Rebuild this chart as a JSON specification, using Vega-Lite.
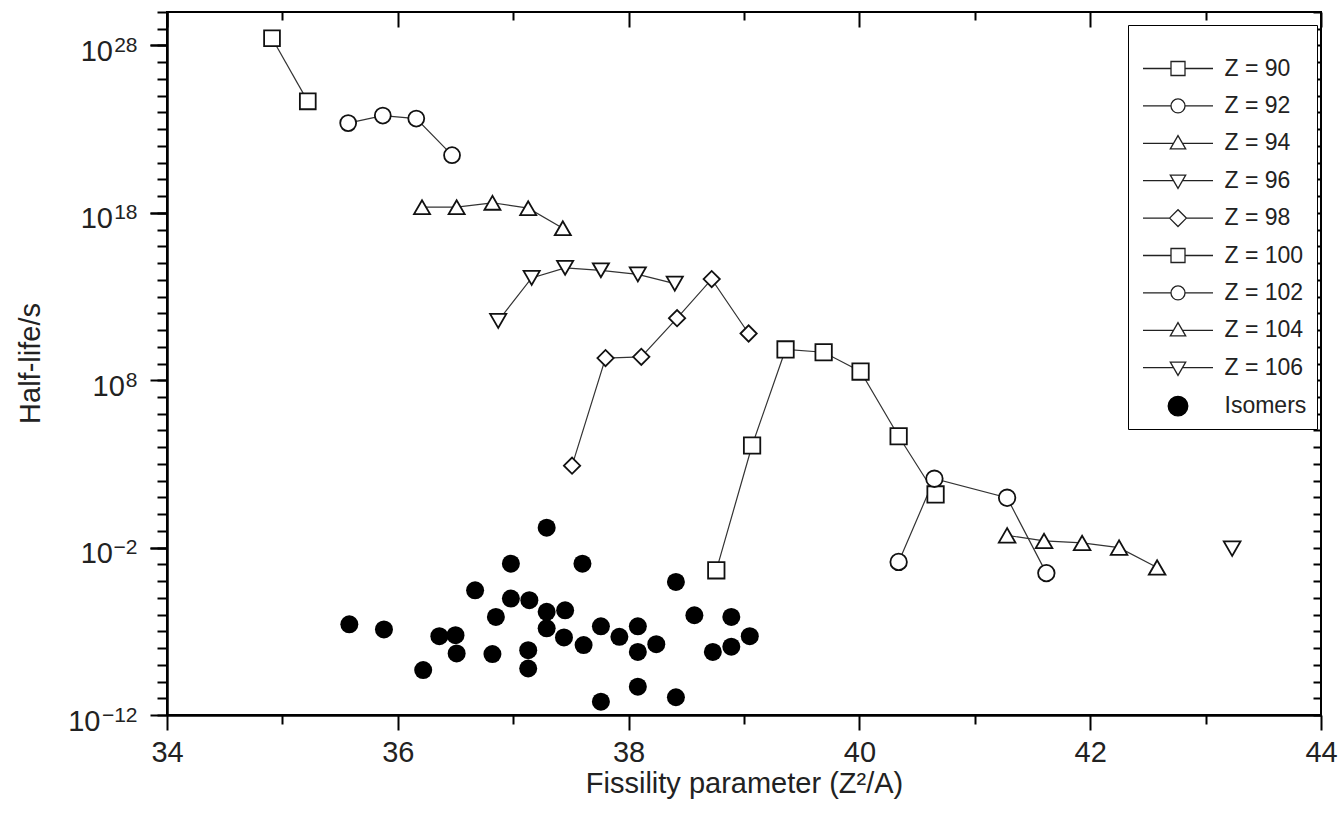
{
  "$schema": "https://vega.github.io/schema/vega-lite/v6.json",
  "width": 1154,
  "height": 703,
  "autosize": {"type": "none"},
  "padding": {"left": 167, "top": 12, "right": 23, "bottom": 100},
  "background": "white",
  "config": {
    "view": {"stroke": "#000", "strokeWidth": 2},
    "font": "Liberation Sans",
    "axis": {
      "grid": false,
      "tickColor": "#000",
      "domainColor": "#000",
      "labelColor": "#222",
      "titleColor": "#222",
      "labelFont": "Liberation Sans",
      "titleFont": "Liberation Sans",
      "labelFontSize": 29,
      "titleFontSize": 29,
      "titleFontWeight": "normal",
      "tickWidth": 2,
      "domainWidth": 2.5,
      "labelFlush": false,
      "labelOverlap": false
    }
  },
  "datasets": {
    "hl": [
      {"series": "Z = 90", "fissility": 34.91, "halflife": 2.7e28},
      {"series": "Z = 90", "fissility": 35.22, "halflife": 4.6e24},
      {"series": "Z = 92", "fissility": 35.57, "halflife": 2.3e23},
      {"series": "Z = 92", "fissility": 35.87, "halflife": 6.5e23},
      {"series": "Z = 92", "fissility": 36.16, "halflife": 4.3e23},
      {"series": "Z = 92", "fissility": 36.47, "halflife": 2.8e21},
      {"series": "Z = 94", "fissility": 36.21, "halflife": 2.2e18},
      {"series": "Z = 94", "fissility": 36.51, "halflife": 2.2e18},
      {"series": "Z = 94", "fissility": 36.82, "halflife": 4.0e18},
      {"series": "Z = 94", "fissility": 37.13, "halflife": 1.9e18},
      {"series": "Z = 94", "fissility": 37.43, "halflife": 1.2e17},
      {"series": "Z = 96", "fissility": 36.87, "halflife": 3.5e11},
      {"series": "Z = 96", "fissility": 37.16, "halflife": 1.3e14},
      {"series": "Z = 96", "fissility": 37.45, "halflife": 5.2e14},
      {"series": "Z = 96", "fissility": 37.76, "halflife": 3.7e14},
      {"series": "Z = 96", "fissility": 38.08, "halflife": 2.1e14},
      {"series": "Z = 96", "fissility": 38.40, "halflife": 5.9e13},
      {"series": "Z = 98", "fissility": 37.51, "halflife": 790},
      {"series": "Z = 98", "fissility": 37.80, "halflife": 2.1e9},
      {"series": "Z = 98", "fissility": 38.11, "halflife": 2.5e9},
      {"series": "Z = 98", "fissility": 38.42, "halflife": 5.1e11},
      {"series": "Z = 98", "fissility": 38.72, "halflife": 1.1e14},
      {"series": "Z = 98", "fissility": 39.04, "halflife": 6.2e10},
      {"series": "Z = 100", "fissility": 38.76, "halflife": 4.4e-4},
      {"series": "Z = 100", "fissility": 39.07, "halflife": 1.26e4},
      {"series": "Z = 100", "fissility": 39.36, "halflife": 6.9e9},
      {"series": "Z = 100", "fissility": 39.69, "halflife": 4.7e9},
      {"series": "Z = 100", "fissility": 40.01, "halflife": 3.3e8},
      {"series": "Z = 100", "fissility": 40.34, "halflife": 4.5e4},
      {"series": "Z = 100", "fissility": 40.66, "halflife": 15},
      {"series": "Z = 102", "fissility": 40.34, "halflife": 1.4e-3},
      {"series": "Z = 102", "fissility": 40.65, "halflife": 130},
      {"series": "Z = 102", "fissility": 41.28, "halflife": 9.5},
      {"series": "Z = 102", "fissility": 41.62, "halflife": 3.0e-4},
      {"series": "Z = 104", "fissility": 41.28, "halflife": 0.054},
      {"series": "Z = 104", "fissility": 41.60, "halflife": 0.025},
      {"series": "Z = 104", "fissility": 41.93, "halflife": 0.019},
      {"series": "Z = 104", "fissility": 42.25, "halflife": 0.010},
      {"series": "Z = 104", "fissility": 42.58, "halflife": 6.5e-4},
      {"series": "Z = 106", "fissility": 43.23, "halflife": 8.7e-3},
      {"series": "Isomers", "fissility": 35.58, "halflife": 2.6e-7},
      {"series": "Isomers", "fissility": 35.88, "halflife": 1.3e-7},
      {"series": "Isomers", "fissility": 36.22, "halflife": 4.8e-10},
      {"series": "Isomers", "fissility": 36.36, "halflife": 5.1e-8},
      {"series": "Isomers", "fissility": 36.50, "halflife": 5.9e-8},
      {"series": "Isomers", "fissility": 36.51, "halflife": 4.8e-9},
      {"series": "Isomers", "fissility": 36.67, "halflife": 2.8e-5},
      {"series": "Isomers", "fissility": 36.85, "halflife": 7.2e-7},
      {"series": "Isomers", "fissility": 36.82, "halflife": 4.4e-9},
      {"series": "Isomers", "fissility": 36.98, "halflife": 1.1e-3},
      {"series": "Isomers", "fissility": 36.98, "halflife": 9.1e-6},
      {"series": "Isomers", "fissility": 37.14, "halflife": 7.2e-6},
      {"series": "Isomers", "fissility": 37.13, "halflife": 7.4e-9},
      {"series": "Isomers", "fissility": 37.13, "halflife": 6.0e-10},
      {"series": "Isomers", "fissility": 37.29, "halflife": 0.155},
      {"series": "Isomers", "fissility": 37.29, "halflife": 1.45e-6},
      {"series": "Isomers", "fissility": 37.29, "halflife": 1.5e-7},
      {"series": "Isomers", "fissility": 37.45, "halflife": 1.8e-6},
      {"series": "Isomers", "fissility": 37.44, "halflife": 4.3e-8},
      {"series": "Isomers", "fissility": 37.60, "halflife": 1.1e-3},
      {"series": "Isomers", "fissility": 37.61, "halflife": 1.5e-8},
      {"series": "Isomers", "fissility": 37.76, "halflife": 2.0e-7},
      {"series": "Isomers", "fissility": 37.76, "halflife": 6.2e-12},
      {"series": "Isomers", "fissility": 37.92, "halflife": 4.7e-8},
      {"series": "Isomers", "fissility": 38.08, "halflife": 2.0e-7},
      {"series": "Isomers", "fissility": 38.08, "halflife": 5.9e-9},
      {"series": "Isomers", "fissility": 38.08, "halflife": 4.9e-11},
      {"series": "Isomers", "fissility": 38.24, "halflife": 1.7e-8},
      {"series": "Isomers", "fissility": 38.41, "halflife": 8.9e-5},
      {"series": "Isomers", "fissility": 38.41, "halflife": 1.15e-11},
      {"series": "Isomers", "fissility": 38.57, "halflife": 9.1e-7},
      {"series": "Isomers", "fissility": 38.73, "halflife": 5.9e-9},
      {"series": "Isomers", "fissility": 38.89, "halflife": 7.2e-7},
      {"series": "Isomers", "fissility": 38.89, "halflife": 1.2e-8},
      {"series": "Isomers", "fissility": 39.05, "halflife": 5.1e-8}
    ]
  },
  "data": {"name": "hl"},
  "layer": [
    {
      "transform": [{"filter": "datum.series !== 'Isomers'"}],
      "mark": {"type": "line", "stroke": "#333", "strokeWidth": 1.2},
      "encoding": {
        "x": {
          "field": "fissility", "type": "quantitative",
          "scale": {"domain": [34, 44], "nice": false, "zero": false},
          "axis": {"orient": "bottom", "values": [34, 36, 38, 40, 42, 44], "tickSize": 15, "labelPadding": 8,
            "title": "Fissility parameter (Z²/A)", "titleX": 577, "titleY": 68, "titleAlign": "center", "titleBaseline": "middle"}
        },
        "y": {
          "field": "halflife", "type": "quantitative",
          "scale": {"type": "log", "domain": [1e-12, 1e30], "nice": false},
          "axis": {"orient": "left", "values": [1e-2, 1e18, 1e28], "tickSize": 17, "labelPadding": 37.5,
            "labelBaseline": "middle", "labelOffset": 6, "labelExpr": "'10'",
            "title": "Half-life/s", "titleX": -137, "titleY": 351, "titleAngle": -90, "titleAlign": "center", "titleBaseline": "middle"}
        },
        "detail": {"field": "series", "type": "nominal"}
      }
    },
    {
      "transform": [{"filter": "datum.series !== 'Isomers'"}],
      "mark": {"type": "point", "filled": false, "fill": "white", "stroke": "#111", "strokeWidth": 1.8, "opacity": 1},
      "encoding": {
        "x": {
          "field": "fissility", "type": "quantitative",
          "axis": {"orient": "bottom", "values": [35, 37, 39, 41, 43], "tickSize": 9, "labels": false, "domain": false, "title": null}
        },
        "y": {
          "field": "halflife", "type": "quantitative",
          "axis": {"orient": "left", "values": [1e-12,1e-11,1e-10,1e-9,1e-8,1e-7,1e-6,1e-5,1e-4,1e-3,1e-2,1e-1,1,1e1,1e2,1e3,1e4,1e5,1e6,1e7,1e8,1e9,1e10,1e11,1e12,1e13,1e14,1e15,1e16,1e17,1e18,1e19,1e20,1e21,1e22,1e23,1e24,1e25,1e26,1e27,1e28,1e29,1e30],
            "tickSize": 10, "labelPadding": 32.7, "labelBaseline": "middle", "labelOffset": 6,
            "labelExpr": "datum.value > 1e7 && datum.value < 1e9 ? '10' : ''",
            "domain": false, "title": null}
        },
        "shape": {
          "field": "series", "type": "nominal",
          "scale": {
            "domain": ["Z = 90", "Z = 92", "Z = 94", "Z = 96", "Z = 98", "Z = 100", "Z = 102", "Z = 104", "Z = 106"],
            "range": ["square", "circle", "triangle-up", "triangle-down", "diamond", "square", "circle", "triangle-up", "triangle-down"]
          },
          "legend": null
        },
        "size": {
          "field": "series", "type": "nominal",
          "scale": {
            "domain": ["Z = 90", "Z = 92", "Z = 94", "Z = 96", "Z = 98", "Z = 100", "Z = 102", "Z = 104", "Z = 106"],
            "range": [250, 280, 420, 400, 400, 250, 280, 420, 400]
          },
          "legend": null
        }
      }
    },
    {
      "transform": [{"filter": "datum.series === 'Isomers'"}],
      "mark": {"type": "circle", "fill": "#000", "size": 324, "opacity": 1},
      "encoding": {
        "x": {
          "field": "fissility", "type": "quantitative",
          "axis": {"orient": "top", "values": [34, 36, 38, 40, 42, 44], "tickSize": -15, "labels": false, "domain": false, "title": null}
        },
        "y": {
          "field": "halflife", "type": "quantitative",
          "axis": {"orient": "right", "values": [1e-12,1e-11,1e-10,1e-9,1e-8,1e-7,1e-6,1e-5,1e-4,1e-3,1e-2,1e-1,1,1e1,1e2,1e3,1e4,1e5,1e6,1e7,1e8,1e9,1e10,1e11,1e12,1e13,1e14,1e15,1e16,1e17,1e18,1e19,1e20,1e21,1e22,1e23,1e24,1e25,1e26,1e27,1e28,1e29,1e30],
            "tickSize": -8, "labels": false, "domain": false, "title": null}
        }
      }
    },
    {
      "mark": {"type": "point", "filled": false, "strokeWidth": 1.3, "size": 196, "opacity": 0},
      "encoding": {
        "x": {
          "field": "fissility", "type": "quantitative",
          "axis": {"orient": "top", "values": [35, 37, 39, 41, 43], "tickSize": -8, "labels": false, "domain": false, "title": null}
        },
        "y": {
          "field": "halflife", "type": "quantitative",
          "axis": {"orient": "left", "values": [1e-12, 1e-2, 1e8, 1e18, 1e28], "tickSize": 17, "labelPadding": 13,
            "domain": false, "labelFontSize": 21, "labelBaseline": "middle", "labelOffset": 0,
            "labelExpr": "datum.value >= 1e27 ? '28' : datum.value >= 1e17 ? '18' : datum.value >= 1e7 ? '8' : datum.value >= 1e-3 ? '−2' : '−12'",
            "title": null}
        },
        "shape": {
          "field": "series", "type": "nominal",
          "scale": {
            "domain": ["Z = 90", "Z = 92", "Z = 94", "Z = 96", "Z = 98", "Z = 100", "Z = 102", "Z = 104", "Z = 106", "Isomers"],
            "range": [
              "M-5,0H-1M1,0H5M-1,-1H1V1H-1Z",
              "M-5,0H-1M1,0H5M-1,0A1,1,0,1,0,1,0A1,1,0,1,0,-1,0Z",
              "M-5,0H-0.65M0.65,0H5M0,-1.1L1.1,0.8L-1.1,0.8Z",
              "M-5,0H-0.65M0.65,0H5M0,1.1L1.1,-0.8L-1.1,-0.8Z",
              "M-5,0H-1.2M1.2,0H5M-1.2,0L0,-1.2L1.2,0L0,1.2Z",
              "M-5,0H-1M1,0H5M-1,-1H1V1H-1Z",
              "M-5,0H-1M1,0H5M-1,0A1,1,0,1,0,1,0A1,1,0,1,0,-1,0Z",
              "M-5,0H-0.65M0.65,0H5M0,-1.1L1.1,0.8L-1.1,0.8Z",
              "M-5,0H-0.65M0.65,0H5M0,1.1L1.1,-0.8L-1.1,-0.8Z",
              "M-1.4,0A1.4,1.4,0,1,0,1.4,0A1.4,1.4,0,1,0,-1.4,0Z"
            ]
          },
          "legend": {"title": " ", "orient": "none", "legendX": 961, "legendY": 13, "titleFontSize": 10, "titlePadding": 12,
            "padding": 10, "fillColor": "white", "strokeColor": "#000", "labelFontSize": 23, "labelFont": "Liberation Sans",
            "labelColor": "#222", "symbolSize": 196, "symbolStrokeWidth": 1.3, "symbolOpacity": 1,
            "symbolOffset": 28.5, "labelOffset": 35, "rowPadding": 13.4}
        },
        "fill": {
          "field": "series", "type": "nominal",
          "scale": {
            "domain": ["Z = 90", "Z = 92", "Z = 94", "Z = 96", "Z = 98", "Z = 100", "Z = 102", "Z = 104", "Z = 106", "Isomers"],
            "range": ["white", "white", "white", "white", "white", "white", "white", "white", "white", "black"]
          },
          "legend": {"title": " ", "orient": "none", "legendX": 961, "legendY": 13, "titleFontSize": 10, "titlePadding": 12,
            "padding": 10, "fillColor": "white", "strokeColor": "#000", "labelFontSize": 23, "labelFont": "Liberation Sans",
            "labelColor": "#222", "symbolSize": 196, "symbolStrokeWidth": 1.3, "symbolOpacity": 1,
            "symbolOffset": 28.5, "labelOffset": 35, "rowPadding": 13.4}
        },
        "stroke": {
          "field": "series", "type": "nominal",
          "scale": {
            "domain": ["Z = 90", "Z = 92", "Z = 94", "Z = 96", "Z = 98", "Z = 100", "Z = 102", "Z = 104", "Z = 106", "Isomers"],
            "range": ["#222", "#222", "#222", "#222", "#222", "#222", "#222", "#222", "#222", "#000"]
          },
          "legend": {"title": " ", "orient": "none", "legendX": 961, "legendY": 13, "titleFontSize": 10, "titlePadding": 12,
            "padding": 10, "fillColor": "white", "strokeColor": "#000", "labelFontSize": 23, "labelFont": "Liberation Sans",
            "labelColor": "#222", "symbolSize": 196, "symbolStrokeWidth": 1.3, "symbolOpacity": 1,
            "symbolOffset": 28.5, "labelOffset": 35, "rowPadding": 13.4}
        }
      }
    },
    {
      "mark": {"type": "point", "opacity": 0},
      "encoding": {
        "x": {"field": "fissility", "type": "quantitative", "axis": null},
        "y": {
          "field": "halflife", "type": "quantitative",
          "axis": {"orient": "left", "values": [1e-12], "tickSize": 17, "tickOpacity": 0, "labelPadding": 50,
            "domain": false, "labelBaseline": "middle", "labelOffset": 6, "labelExpr": "'10'", "title": null}
        }
      }
    }
  ],
  "resolve": {
    "scale": {"shape": "independent", "fill": "independent", "stroke": "independent", "size": "independent"},
    "axis": {"x": "independent", "y": "independent"}
  }
}
